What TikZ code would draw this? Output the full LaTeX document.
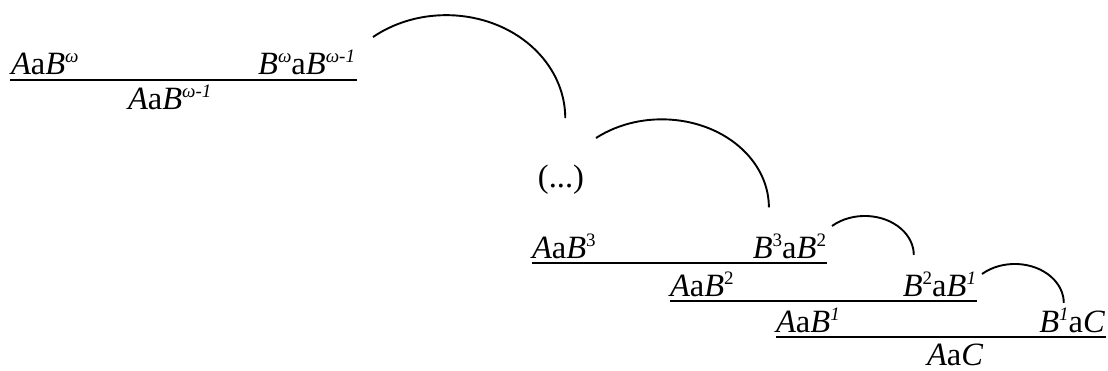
\documentclass[tikz,border=0pt]{standalone}
\usepackage{fontspec}
\setmainfont{Liberation Serif}
\newcommand\Sup[1]{\raisebox{12.5pt}{\fontsize{19}{19}\selectfont #1}}
\newcommand\It[1]{\textit{#1}}
\begin{document}
\begin{tikzpicture}[x=1pt,y=1pt,
  lbl/.style={inner sep=0pt, outer sep=0pt, font=\fontsize{32.5}{38}\selectfont},
  rule/.style={line width=2.1pt},
  bow/.style={line width=1.9pt}]
\useasboundingbox (0,0) rectangle (1108,371);
% block omega
\node[lbl, anchor=base west] (w1) at (11,296) {\It{A}a\It{B}\Sup{\It{ω}}};
\node[lbl, anchor=base east] (w2) at (355,296) {\It{B}\Sup{\It{ω}}a\It{B}\Sup{\It{ω-1}}};
\node[lbl, anchor=base west] (w3) at (128,261) {\It{A}a\It{B}\Sup{\It{ω-1}}};
\coordinate (r1a) at (10,291);
\coordinate (r1b) at (357,291);
\draw[rule] (r1a) -- (r1b);
% arc 1
\coordinate (a1s) at (373,334);
\draw[bow] (a1s) arc[start angle=128, end angle=0, x radius=119, y radius=103];
% dots
\node[lbl] (dots) at (561,191) {(...)};
% arc 2
\coordinate (a2s) at (596,233);
\draw[bow] (a2s) arc[start angle=128, end angle=0, x radius=107, y radius=88];
% block 3
\node[lbl, anchor=base west] (p3a) at (532,112) {\It{A}a\It{B}\Sup{3}};
\node[lbl, anchor=base east] (p3b) at (826,112) {\It{B}\Sup{3}a\It{B}\Sup{2}};
\coordinate (r3a) at (532,108);
\coordinate (r3b) at (827,108);
\draw[rule] (r3a) -- (r3b);
% arc 3
\coordinate (a3s) at (832,145);
\draw[bow] (a3s) arc[start angle=132, end angle=0, x radius=49, y radius=39];
% block 2
\node[lbl, anchor=base west] (p2a) at (670,74) {\It{A}a\It{B}\Sup{2}};
\node[lbl, anchor=base east] (p2b) at (976,74) {\It{B}\Sup{2}a\It{B}\Sup{\It{1}}};
\coordinate (r2a) at (670,70);
\coordinate (r2b) at (977,70);
\draw[rule] (r2a) -- (r2b);
% arc 4
\coordinate (a4s) at (982,97);
\draw[bow] (a4s) arc[start angle=132, end angle=0, x radius=49, y radius=39];
% block 1
\node[lbl, anchor=base west] (p1a) at (776,38) {\It{A}a\It{B}\Sup{\It{1}}};
\node[lbl, anchor=base east] (p1b) at (1105,38) {\It{B}\Sup{\It{1}}a\It{C}};
\coordinate (r1c) at (776,34);
\coordinate (r1d) at (1106,34);
\draw[rule] (r1c) -- (r1d);
\node[lbl, anchor=base west] (c1) at (927,5) {\It{A}a\It{C}};
\end{tikzpicture}
\end{document}
